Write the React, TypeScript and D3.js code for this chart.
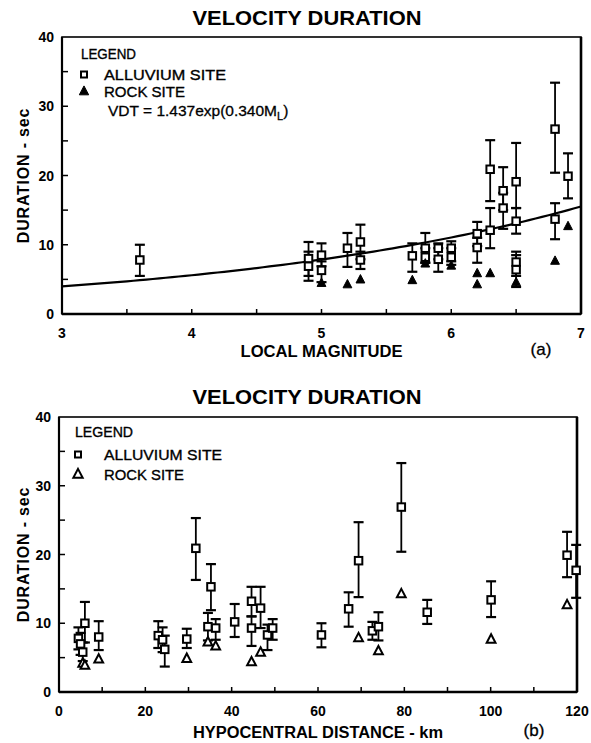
import React from "react";
import * as d3 from "d3";

// ---- Data: panel (a) velocity duration vs local magnitude ----
const alluviumMag = [3.6, 4.9, 4.9, 5.0, 5.0, 5.2, 5.3, 5.3, 5.7, 5.8, 5.8, 5.9, 5.9, 6.0, 6.0, 6.2, 6.2, 6.3, 6.3, 6.4, 6.4, 6.5, 6.5, 6.5, 6.5, 6.8, 6.8, 6.9];
const alluviumDurA = [7.8, 8.0, 6.9, 8.5, 6.3, 9.5, 10.4, 7.8, 8.4, 9.5, 8.2, 9.5, 7.9, 9.5, 8.2, 11.6, 9.6, 20.9, 12.1, 17.8, 15.3, 19.1, 13.4, 7.5, 6.4, 26.7, 13.7, 19.9];
const alluviumLoA = [5.5, 4.8, 5.5, 6.9, 4.6, 6.8, 7.9, 6.5, 6.1, 7.4, 7.4, 7.9, 6.1, 7.6, 7.1, 9.8, 7.4, 16.3, 9.5, 15.0, 12.3, 15.3, 11.6, 5.5, 3.9, 20.4, 10.8, 16.7];
const alluviumHiA = [10.0, 10.4, 9.0, 10.2, 7.6, 11.7, 12.9, 9.0, 10.2, 11.7, 9.5, 10.2, 9.5, 10.5, 9.5, 13.3, 11.0, 25.1, 15.3, 21.2, 17.5, 24.7, 15.3, 9.0, 8.5, 33.4, 16.0, 23.2];
const rockMag = [5.0, 5.2, 5.3, 5.7, 5.8, 6.0, 6.2, 6.2, 6.3, 6.5, 6.8, 6.9];
const rockDurA = [4.5, 4.3, 5.0, 4.9, 7.3, 7.0, 5.9, 4.3, 5.9, 4.6, 7.7, 12.7];
const fitA = 1.437;
const fitB = 0.34;
const magTicks = [3, 4, 5, 6, 7];
const durTicks = [0, 10, 20, 30, 40];

// ---- Data: panel (b) velocity duration vs hypocentral distance ----
const alluviumKm = [6, 4.5, 5, 5.5, 9.2, 23, 24, 24.5, 29.6, 31.7, 34.5, 35.2, 36.3, 40.7, 44.6, 44.6, 46.7, 48.3, 49.5, 60.8, 67.1, 69.4, 72.6, 74.0, 79.3, 85.3, 100.1, 117.7, 119.8];
const alluviumDurB = [10.0, 7.8, 7.0, 5.8, 8.0, 8.2, 7.6, 6.2, 7.7, 20.9, 9.5, 15.3, 9.3, 10.2, 13.2, 9.3, 12.2, 8.3, 9.3, 8.3, 12.1, 19.1, 8.9, 9.5, 26.9, 11.6, 13.4, 19.9, 17.7];
const alluviumLoB = [7.2, 6.2, 5.4, 4.5, 6.1, 6.4, 5.8, 3.7, 6.4, 16.3, 7.5, 11.9, 7.6, 8.0, 11.0, 6.7, 9.3, 6.1, 7.6, 6.5, 9.5, 13.8, 7.6, 7.5, 20.4, 9.9, 10.9, 16.7, 13.7];
const alluviumHiB = [13.1, 9.4, 8.6, 7.2, 10.3, 10.3, 9.4, 8.2, 9.2, 25.3, 11.5, 18.6, 10.6, 12.8, 15.3, 11.0, 15.3, 9.8, 10.6, 10.0, 14.5, 24.7, 10.2, 11.6, 33.3, 13.4, 16.1, 23.3, 21.4];
const rockKm = [5.5, 6, 9.2, 29.6, 34.5, 36.3, 44.6, 46.7, 69.4, 74.0, 79.3, 100.1, 117.7];
const rockDurB = [4.2, 3.9, 4.8, 4.9, 7.3, 6.7, 4.4, 5.8, 7.9, 6.0, 14.3, 7.7, 12.7];
const kmTicks = [0, 20, 40, 60, 80, 100, 120];

const FONT = "'Liberation Sans', Arial, Helvetica, sans-serif";

type PanelProps = {
  top: number;
  bottom: number;
  left: number;
  right: number;
  xDomain: [number, number];
  xTicks: number[];
  xMinorStep: number;
  title: string;
  titleY: number;
  xLabel: string;
  xLabelW: number;
  xLabelY: number;
  tag: string;
  tagX: number;
  ax: number[];
  ay: number[];
  alo: number[];
  ahi: number[];
  rx: number[];
  ry: number[];
  filledTri: boolean;
  fit?: boolean;
  legendTextX: number;
  legendMarkX: number;
  legendBase: number[];
  legendW: number[];
};

function tri(cx: number, cy: number, s: number) {
  return `M${cx},${cy - s * 0.6} L${cx + s * 0.55},${cy + s * 0.45} L${cx - s * 0.55},${cy + s * 0.45} Z`;
}

function Panel(p: PanelProps) {
  const x = d3.scaleLinear().domain(p.xDomain).range([p.left, p.right]);
  const y = d3.scaleLinear().domain([0, 40]).range([p.bottom, p.top]);
  const minorX = d3.range(p.xDomain[0], p.xDomain[1] + 1e-9, p.xMinorStep);
  const minorY = d3.range(5, 40, 5);
  const line = d3
    .line<number>()
    .x((m) => x(m))
    .y((m) => y(fitA * Math.exp(fitB * m)));
  const fitPts = d3.range(p.xDomain[0], p.xDomain[1] + 1e-9, 0.05);
  const midY = (p.top + p.bottom) / 2;
  const midX = (p.left + p.right) / 2;
  const sq = 7.5;
  const cap = 5;
  const lt = { fontFamily: FONT, fontSize: 15, stroke: "#000", strokeWidth: 0.35, lengthAdjust: "spacingAndGlyphs" as const };
  const [bLeg, bAll, bRock, bVdt] = p.legendBase;
  const [wLeg, wAll, wRock] = p.legendW;
  return (
    <g>
      <text x={307} y={p.titleY} textAnchor="middle" fontFamily={FONT} fontWeight="bold" fontSize={21} textLength={229} lengthAdjust="spacingAndGlyphs">
        {p.title}
      </text>
      {/* frame */}
      <rect x={p.left} y={p.top} width={p.right - p.left} height={p.bottom - p.top} fill="none" stroke="#000" strokeWidth={1.6} />
      <line x1={p.right} y1={p.top} x2={p.right} y2={p.bottom} stroke="#000" strokeWidth={2.6} />
      <line x1={p.left} y1={p.bottom} x2={p.right} y2={p.bottom} stroke="#000" strokeWidth={2.4} />
      <line x1={p.left} y1={p.top} x2={p.left} y2={p.bottom} stroke="#000" strokeWidth={2.2} />
      {minorY.map((v) => (
        <line key={"yt" + v} x1={p.left} x2={p.left + 6} y1={y(v)} y2={y(v)} stroke="#000" strokeWidth={1.5} />
      ))}
      {minorX.map((v) => (
        <line key={"xt" + v} x1={x(v)} x2={x(v)} y1={p.bottom} y2={p.bottom - 5} stroke="#000" strokeWidth={1.5} />
      ))}
      {durTicks.map((v) => (
        <text key={"yl" + v} x={p.left - 8} y={y(v) + 5} textAnchor="end" fontFamily={FONT} fontWeight="bold" fontSize={14}>
          {v}
        </text>
      ))}
      {p.xTicks.map((v) => (
        <text key={"xl" + v} x={x(v)} y={p.bottom + 24} textAnchor="middle" fontFamily={FONT} fontWeight="bold" fontSize={14}>
          {v}
        </text>
      ))}
      <text
        transform={`translate(29,${midY}) rotate(-90)`}
        textAnchor="middle"
        fontFamily={FONT}
        fontWeight="bold"
        fontSize={16}
        letterSpacing={0.8}
      >
        DURATION - sec
      </text>
      <text x={midX} y={p.xLabelY} textAnchor="middle" fontFamily={FONT} fontWeight="bold" fontSize={16} textLength={p.xLabelW} lengthAdjust="spacingAndGlyphs">
        {p.xLabel}
      </text>
      <text x={p.tagX} y={p.xLabelY - 2} textAnchor="middle" fontFamily={FONT} fontSize={17} stroke="#000" strokeWidth={0.3}>
        {p.tag}
      </text>
      {/* legend */}
      <text x={p.legendMarkX - 3} y={bLeg} {...lt} fontSize={14} textLength={wLeg}>
        LEGEND
      </text>
      <rect x={p.legendMarkX - 3} y={bAll - 8.5} width={6} height={6} fill="#fff" stroke="#000" strokeWidth={2} />
      <text x={p.legendTextX} y={bAll} {...lt} textLength={wAll}>
        ALLUVIUM SITE
      </text>
      <path d={tri(p.legendMarkX, bRock - 6, 8.5)} fill={p.filledTri ? "#000" : "#fff"} stroke="#000" strokeWidth={p.filledTri ? 1 : 2} />
      <text x={p.legendTextX} y={bRock} {...lt} textLength={wRock}>
        ROCK SITE
      </text>
      {p.fit && (
        <text x={108} y={bVdt} fontFamily={FONT} fontSize={15.5} stroke="#000" strokeWidth={0.3}>
          VDT = 1.437exp(0.340M
          <tspan fontSize={11} dy={4}>L</tspan>
          <tspan dy={-4}>)</tspan>
        </text>
      )}
      {p.fit && <path d={line(fitPts) || ""} fill="none" stroke="#000" strokeWidth={2.2} />}
      {/* error bars */}
      {p.ax.map((v, i) => (
        <g key={"eb" + i} stroke="#000" strokeWidth={1.8}>
          <line x1={x(v)} x2={x(v)} y1={y(p.alo[i])} y2={y(p.ahi[i])} />
          <line x1={x(v) - cap} x2={x(v) + cap} y1={y(p.ahi[i])} y2={y(p.ahi[i])} strokeWidth={2.2} />
          <line x1={x(v) - cap} x2={x(v) + cap} y1={y(p.alo[i])} y2={y(p.alo[i])} strokeWidth={2.2} />
        </g>
      ))}
      {p.ax.map((v, i) => (
        <rect key={"sq" + i} x={x(v) - sq / 2} y={y(p.ay[i]) - sq / 2} width={sq} height={sq} fill="#fff" stroke="#000" strokeWidth={2} />
      ))}
      {p.rx.map((v, i) => (
        <path
          key={"tr" + i}
          d={tri(x(v), y(p.ry[i]), 8)}
          fill={p.filledTri ? "#000" : "#fff"}
          stroke="#000"
          strokeWidth={p.filledTri ? 1 : 2}
        />
      ))}
    </g>
  );
}

export default function App() {
  return (
    <svg
      width={591}
      height={743}
      viewBox="0 0 591 743"
      style={{ position: "absolute", left: 0, top: 0, background: "#fff" }}
    >
      <rect x={0} y={0} width={591} height={743} fill="#fff" />
      <Panel
        top={37}
        bottom={314}
        left={62}
        right={581}
        xDomain={[3, 7]}
        xTicks={magTicks}
        xMinorStep={0.5}
        title="VELOCITY DURATION"
        titleY={25}
        xLabel="LOCAL MAGNITUDE"
        xLabelW={162}
        xLabelY={357}
        tag="(a)"
        tagX={541}
        ax={alluviumMag}
        ay={alluviumDurA}
        alo={alluviumLoA}
        ahi={alluviumHiA}
        rx={rockMag}
        ry={rockDurA}
        filledTri={true}
        fit={true}
        legendTextX={104}
        legendMarkX={84}
        legendBase={[59, 80, 97, 116]}
        legendW={[55, 122, 81, 192]}
      />
      <Panel
        top={417}
        bottom={692}
        left={59}
        right={577}
        xDomain={[0, 120]}
        xTicks={kmTicks}
        xMinorStep={10}
        title="VELOCITY DURATION"
        titleY={404}
        xLabel="HYPOCENTRAL DISTANCE - km"
        xLabelW={250}
        xLabelY={738}
        tag="(b)"
        tagX={534}
        ax={alluviumKm}
        ay={alluviumDurB}
        alo={alluviumLoB}
        ahi={alluviumHiB}
        rx={rockKm}
        ry={rockDurB}
        filledTri={false}
        legendTextX={104}
        legendMarkX={78}
        legendBase={[437, 460, 480, 0]}
        legendW={[58, 118, 80, 0]}
      />
    </svg>
  );
}
